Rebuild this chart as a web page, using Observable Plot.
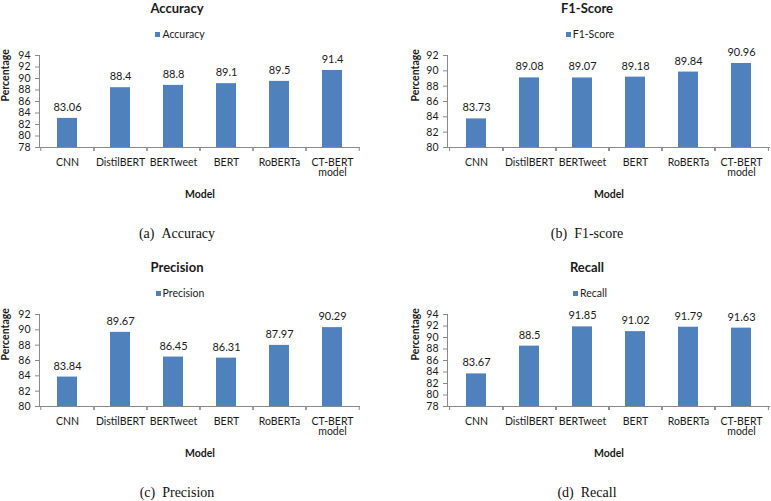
<!DOCTYPE html>
<html>
<head>
<meta charset="utf-8">
<script src="https://cdn.jsdelivr.net/npm/d3@7"></script>
<script src="https://cdn.jsdelivr.net/npm/@observablehq/plot@0.6"></script>
<style>
  body { margin: 0; background: #fff; }
  #root { position: relative; width: 771px; height: 501px; overflow: hidden; font-family: Lato, "Noto Sans", sans-serif; color: #1a1a1a; }
  .panel { position: absolute; height: 250px; }
  .panel svg { position: absolute; left: 0; top: 0; }
  .title { position: absolute; width: 200px; text-align: center; font-weight: bold; font-size: 13px; line-height: 16px; }
  .legend { position: absolute; width: 200px; text-align: center; font-size: 10.5px; line-height: 12px; }
  .legend .sw { display: inline-block; width: 5px; height: 5px; background: #4F81BD; margin-right: 2px; vertical-align: 1px; }
  .caption { position: absolute; width: 240px; text-align: center; font-family: "Liberation Serif", "DejaVu Serif", serif; font-size: 14px; line-height: 16px; color: #111; }
</style>
</head>
<body>
<div id="root"></div>
<script>
// ---- data ----
const models = ["CNN", "DistilBERT", "BERTweet", "BERT", "RoBERTa", "CT-BERT\nmodel"];
const accuracy = [83.06, 88.4, 88.8, 89.1, 89.5, 91.4];
const f1score = [83.73, 89.08, 89.07, 89.18, 89.84, 90.96];
const precision = [83.84, 89.67, 86.45, 86.31, 87.97, 90.29];
const recall = [83.67, 88.5, 91.85, 91.02, 91.79, 91.63];
const ticks78to94 = [78, 80, 82, 84, 86, 88, 90, 92, 94];
const ticks80to92 = [80, 82, 84, 86, 88, 90, 92];
const titles = ["Accuracy", "F1-Score", "Precision", "Recall"];
const legendNames = ["Accuracy", "F1-Score", "Precision", "Recall"];
const captions = ["(a)\u00a0\u00a0Accuracy", "(b)\u00a0\u00a0F1-score", "(c)\u00a0\u00a0Precision", "(d)\u00a0\u00a0Recall"];
const xLabel = "Model";
const yLabel = "Percentage";

const seriesList = [accuracy, f1score, precision, recall];
const tickList = [ticks78to94, ticks80to92, ticks80to92, ticks78to94];

// ---- layout ----
const BAR = "#4F81BD";
const AXIS = "#8a8a8a";
const cols = [
  {x0: 0, width: 385, marginLeft: 39, marginRight: 25, center: 177, yDx: -34},
  {x0: 385, width: 386, marginLeft: 62, marginRight: 1, center: 202, yDx: -32}
];
const rows = [{y0: 0}, {y0: 259}];

const root = document.getElementById("root");

seriesList.forEach((values, k) => {
  const col = cols[k % 2], row = rows[Math.floor(k / 2)];
  const ticks = tickList[k];
  const ymin = ticks[0], ymax = ticks[ticks.length - 1];
  const data = models.map((m, i) => ({model: m, value: values[i]}));
  const step = (col.width - col.marginLeft - col.marginRight) / models.length;

  const panel = document.createElement("div");
  panel.className = "panel";
  panel.style.left = col.x0 + "px";
  panel.style.top = row.y0 + "px";
  panel.style.width = col.width + "px";

  const chart = Plot.plot({
    width: col.width,
    height: 250,
    marginLeft: col.marginLeft,
    marginRight: col.marginRight,
    marginTop: 55,
    marginBottom: 103,
    style: {fontFamily: "Lato, 'Noto Sans', sans-serif", fontSize: "10.5px", color: "#1a1a1a", background: "transparent", overflow: "visible"},
    x: {domain: models, paddingInner: 0.615, paddingOuter: 0.3075, axis: null},
    y: {domain: [ymin, ymax], axis: null},
    marks: [
      Plot.barY(data, {x: "model", y1: ymin, y2: "value", fill: BAR}),
      Plot.frame({anchor: "left", stroke: AXIS}),
      Plot.ruleY([ymin], {stroke: AXIS}),
      Plot.axisY(ticks, {tickSize: 4, tickPadding: 5, stroke: AXIS, fill: "#1a1a1a", label: null, fontSize: 10.5}),
      Plot.axisX({tickSize: 4, dx: -step / 2, tickFormat: () => "", stroke: AXIS, label: null}),
      Plot.axisX({tickSize: 4, dx: step / 2, tickFormat: () => "", stroke: AXIS, label: null}),
      Plot.axisX({tickSize: 0, tickPadding: 11, label: null, fontSize: 10.5, fill: "#1a1a1a"}),
      Plot.text(data, {x: "model", y: "value", text: d => String(d.value), dy: -11, fontSize: 11, fill: "#1a1a1a"}),
      Plot.text([xLabel], {frameAnchor: "bottom", dy: 50, fontWeight: "bold", fontSize: 10.5, fill: "#1a1a1a"}),
      Plot.text([yLabel], {frameAnchor: "left", dx: col.yDx, rotate: -90, fontWeight: "bold", fontSize: 10.5, fill: "#1a1a1a"})
    ]
  });
  panel.appendChild(chart);

  const title = document.createElement("div");
  title.className = "title";
  title.textContent = titles[k];
  title.style.left = (col.center - 100) + "px";
  title.style.top = "0px";
  panel.appendChild(title);

  const legend = document.createElement("div");
  legend.className = "legend";
  legend.innerHTML = '<span class="sw"></span>';
  legend.appendChild(document.createTextNode(legendNames[k]));
  legend.style.left = (col.center + 3 - 100) + "px";
  legend.style.top = "28px";
  panel.appendChild(legend);

  const cap = document.createElement("div");
  cap.className = "caption";
  cap.textContent = captions[k];
  cap.style.left = (col.center - 120) + "px";
  cap.style.top = "226px";
  panel.appendChild(cap);

  root.appendChild(panel);
});
</script>
</body>
</html>
